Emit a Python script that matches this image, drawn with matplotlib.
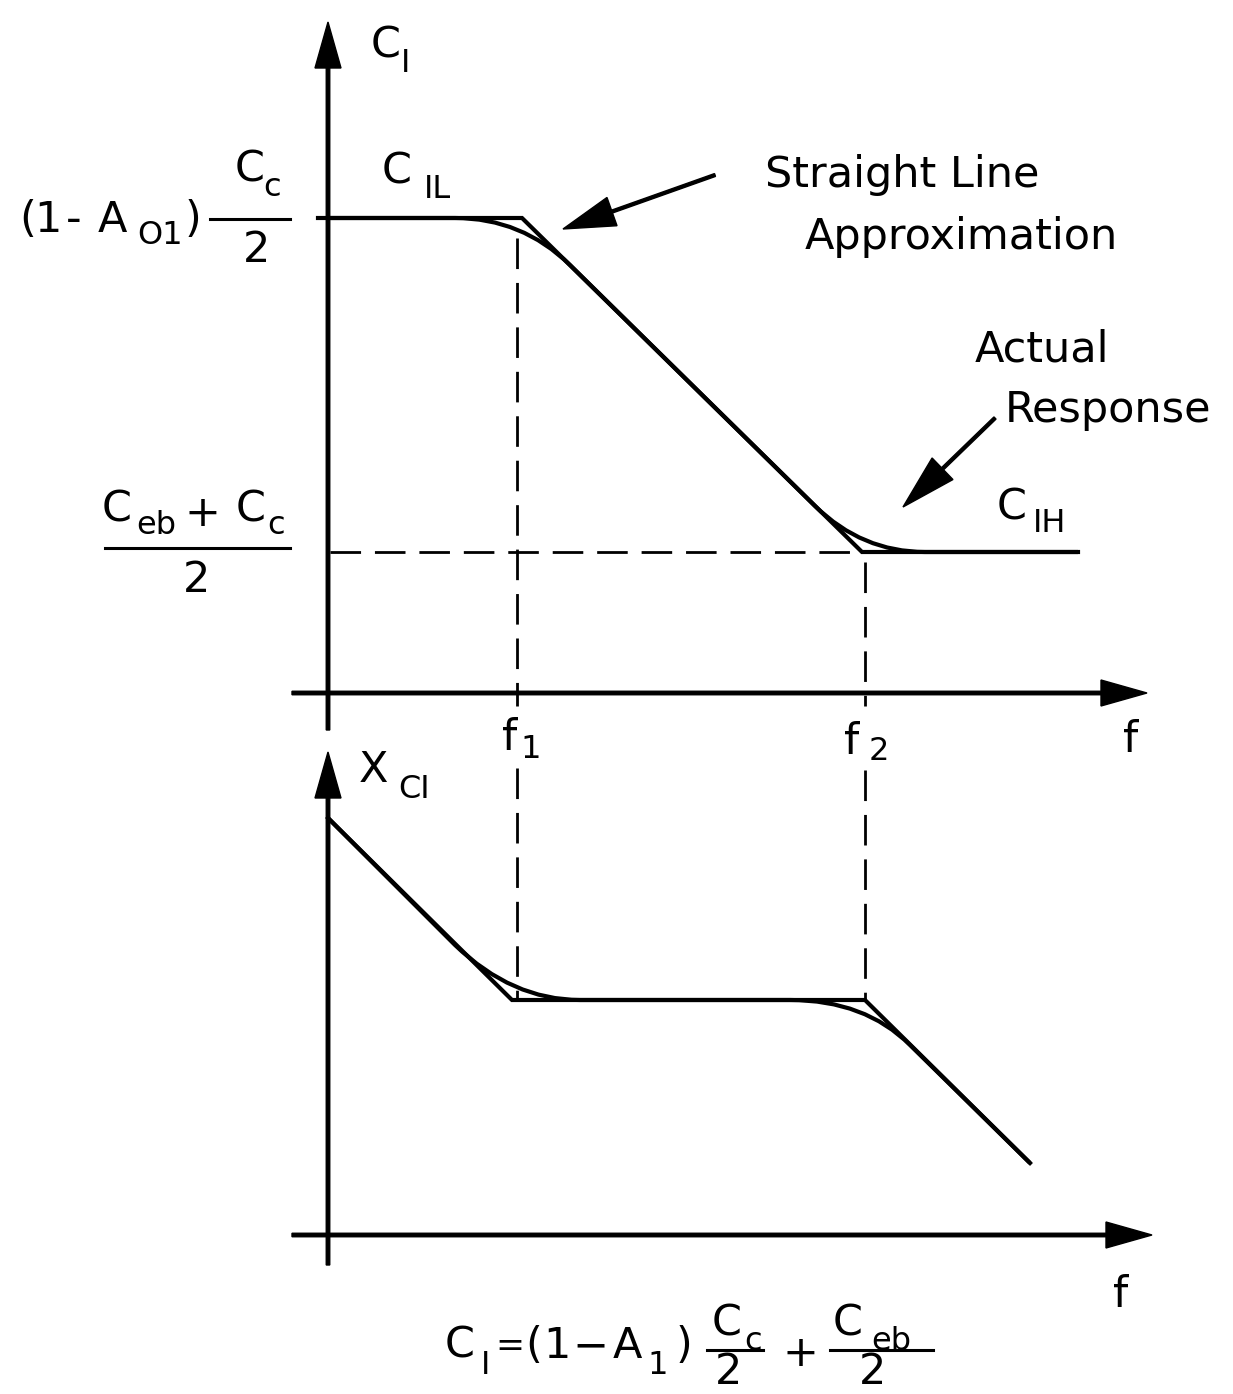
import matplotlib
matplotlib.use("Agg")
import matplotlib.pyplot as plt
from matplotlib.path import Path
from matplotlib.patches import PathPatch

# coordinates are in drawing units (x to the right, y downward)
M, L, Q = Path.MOVETO, Path.LINETO, Path.CURVE3

# upper plot: C_I against f
top_straight_x = [318, 522, 862, 1078]
top_straight_y = [218, 218, 552, 552]
top_actual_x = [328, 455, 522, 570, 815, 862, 925, 1078]
top_actual_y = [218, 218, 218, 265, 506, 552, 552, 552]
top_actual_codes = [M, L, Q, Q, L, Q, Q, L]

# lower plot: X_CI against f
bot_straight_x = [328, 512, 865, 1030]
bot_straight_y = [818, 1000, 1000, 1163]
bot_actual_x = [328, 455, 512, 580, 790, 865, 910, 1030]
bot_actual_y = [818, 945, 1000, 1000, 1000, 1000, 1045, 1163]
bot_actual_codes = [M, L, Q, Q, L, Q, Q, L]

f1_x = 517
f2_x = 865
level_low_y = 552

fig = plt.figure(figsize=(12.33, 13.94), dpi=100)
ax = fig.add_axes([0, 0, 1, 1])
ax.set_xlim(0, 1233)
ax.set_ylim(1394, 0)
ax.axis('off')

lw = 3.0
fs = 31
fss = 23

# axes with arrowheads
def axis_arrow(x0, y0, x1, y1):
    ax.arrow(x0, y0, x1 - x0, y1 - y0, width=3.5, head_width=26, head_length=46,
             length_includes_head=True, fc='black', ec='black')

axis_arrow(328, 730, 328, 22)
axis_arrow(292, 693, 1147, 693)
axis_arrow(328, 1265, 328, 752)
axis_arrow(292, 1235, 1152, 1235)

# straight line approximations
ax.plot(top_straight_x, top_straight_y, color='black', lw=lw, solid_joinstyle='miter')
ax.plot(bot_straight_x, bot_straight_y, color='black', lw=lw, solid_joinstyle='miter')

# actual responses
for xs, ys, codes in [(top_actual_x, top_actual_y, top_actual_codes),
                      (bot_actual_x, bot_actual_y, bot_actual_codes)]:
    p = Path(list(zip(xs, ys)), codes)
    ax.add_patch(PathPatch(p, fc='none', ec='black', lw=lw))

# dashed guide lines
dash = dict(color='black', lw=2.0, dashes=(11, 5))
ax.plot([330, f2_x], [level_low_y, level_low_y], **dash)
ax.plot([f1_x, f1_x], [238, 706], **dash)
ax.plot([f1_x, f1_x], [768, 1000], **dash)
ax.plot([f2_x, f2_x], [562, 706], **dash)
ax.plot([f2_x, f2_x], [770, 1000], **dash)

# pointer arrows
ax.arrow(715, 175, 563 - 715, 229 - 175, width=3, head_width=30, head_length=52,
         length_includes_head=True, fc='black', ec='black')
ax.arrow(995, 418, 903 - 995, 507 - 418, width=3, head_width=30, head_length=55,
         length_includes_head=True, fc='black', ec='black')

def t(x, y, s, size=fs, ha='center'):
    ax.text(x, y, s, fontsize=size, ha=ha, va='center', color='black')

def bar(x0, x1, y):
    ax.plot([x0, x1], [y, y], color='black', lw=2.2)

# axis labels
t(386, 45, 'C')
t(406, 64, 'I', fss)
t(373, 770, 'X')
t(414, 790, 'CI', fss)
t(510, 738, 'f')
t(531, 750, '1', fss)
t(852, 742, 'f')
t(879, 752, '2', fss)
t(1131, 740, 'f')
t(1121, 1295, 'f')

# level labels
t(28, 220, '(')
t(48, 220, '1')
t(74, 220, '-')
t(112, 220, 'A')
t(160, 236, 'O1', fss)
t(193, 220, ')')
t(250, 170, 'C')
t(272, 188, 'c', fss)
bar(210, 290, 219)
t(256, 250, '2')

t(397, 172, 'C')
t(437, 190, 'IL', fss)

t(1012, 508, 'C')
t(1050, 524, 'IH', fss)

t(117, 510, 'C')
t(156, 526, 'eb', fss)
t(202, 514, '+')
t(251, 510, 'C')
t(276, 526, 'c', fss)
bar(105, 290, 548)
t(197, 580, '2')

# annotations
t(765, 175, 'Straight Line', ha='left')
t(805, 237, 'Approximation', ha='left')
t(975, 350, 'Actual', ha='left')
t(1005, 410, 'Response', ha='left')

# formula at bottom
t(460, 1346, 'C')
t(486, 1366, 'I', fss)
t(510, 1346, '=', 25)
t(534, 1346, '(')
t(557, 1346, '1')
t(590, 1346, '\u2212')
t(627, 1346, 'A')
t(658, 1366, '1', fss)
t(684, 1346, ')')
t(727, 1324, 'C')
t(753, 1342, 'c', fss)
bar(707, 763, 1350)
t(729, 1372, '2')
t(800, 1354, '+')
t(848, 1324, 'C')
t(891, 1342, 'eb', fss)
bar(830, 933, 1350)
t(873, 1372, '2')

fig.savefig('out.png', dpi=100, facecolor='white')
